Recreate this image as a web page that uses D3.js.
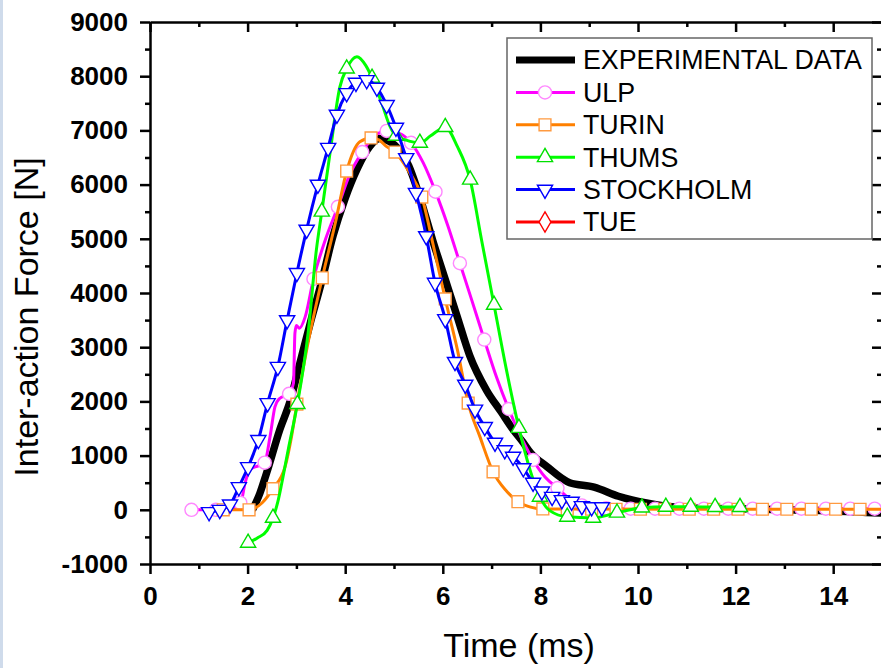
<!DOCTYPE html>
<html>
<head>
<meta charset="utf-8">
<script src="https://cdn.jsdelivr.net/npm/d3@7"></script>
<style>
body { margin: 0; background: #fff; }
svg { display: block; }
.axis path, .axis line { stroke: #000; stroke-width: 2.5; }
.axis text { font-family: "Liberation Sans", Arial, sans-serif; font-weight: bold; font-size: 26px; fill: #000; }
.title { font-family: "Liberation Sans", Arial, sans-serif; font-size: 34px; fill: #000; }
.legend text { font-family: "Liberation Sans", Arial, sans-serif; font-size: 26.8px; fill: #000; }
</style>
</head>
<body>
<svg width="881" height="668"></svg>
<script>
// ---- data ----
var xTicks = [0, 2, 4, 6, 8, 10, 12, 14];
var xMinor = [1, 3, 5, 7, 9, 11, 13, 15];
var yTicks = [-1000, 0, 1000, 2000, 3000, 4000, 5000, 6000, 7000, 8000, 9000];
var yMinor = [-500, 500, 1500, 2500, 3500, 4500, 5500, 6500, 7500, 8500];

var legendNames = ["EXPERIMENTAL DATA", "ULP", "TURIN", "THUMS", "STOCKHOLM", "TUE"];

var expLine = [[2.1,0],[2.25,300],[2.39,680],[2.66,1480],[2.87,2000],[3.07,2700],[3.3,3500],[3.5,4150],
  [3.75,5050],[4.0,5750],[4.25,6300],[4.5,6700],[4.7,6850],[4.9,6800],[5.1,6650],[5.3,6350],[5.5,5850],
  [5.8,4950],[6.05,4250],[6.3,3550],[6.55,2850],[6.9,2200],[7.2,1800],[7.44,1480],[7.64,1250],[7.8,1050],
  [8.13,800],[8.6,500],[9.1,420],[9.6,250],[10.2,120],[10.9,40],[12,20],[13,0],[14,-20],[15,-60]];

var ulpLine = [[0.85,0],[1.35,0],[1.7,20],[1.86,130],[1.95,500],[2.05,740],[2.35,870],[2.46,1350],
  [2.56,1900],[2.65,2050],[2.85,2140],[2.94,2340],[2.97,3260],[3.0,3400],[3.06,3350],[3.18,3560],
  [3.35,4260],[3.6,5000],[3.85,5590],[4.1,6200],[4.35,6600],[4.6,6900],[4.85,6990],[5.1,6950],
  [5.35,6770],[5.6,6400],[5.85,5870],[6.1,5250],[6.35,4550],[6.6,3850],[6.85,3140],[7.1,2450],
  [7.35,1860],[7.6,1350],[7.85,920],[8.1,600],[8.35,400],[8.6,200],[8.85,80],[9.35,30],[9.85,20],
  [10.35,20],[15,20]];
var ulpMarks = [[0.85,0],[1.35,0],[1.85,130],[2.35,870],[2.85,2140],[3.35,4260],[3.85,5590],
  [4.35,6600],[4.85,6990],[5.35,6770],[5.85,5870],[6.35,4550],[6.85,3140],[7.35,1860],[7.85,920],
  [8.35,400],[8.85,80],[9.35,30],[9.85,20],[10.35,20],[10.85,20],[11.35,20],[11.85,20],[12.35,20],
  [12.85,20],[13.35,20],[13.85,20],[14.35,20],[14.85,20]];

var turinLine = [[1.3,0],[1.5,0],[2.03,0],[2.3,130],[2.52,390],[2.77,800],[2.9,1350],[3.01,1950],
  [3.21,2950],[3.53,4280],[3.8,5300],[4.03,6250],[4.3,6790],[4.53,6860],[4.7,6820],[4.85,6700],
  [5.02,6600],[5.3,6250],[5.57,5770],[5.8,4900],[6.05,3890],[6.3,2950],[6.52,1970],[6.76,1350],
  [7.03,700],[7.3,350],[7.54,150],[7.8,50],[8.03,15],[15,10]];
var turinMarks = [[1.5,0],[2.03,0],[2.52,390],[3.01,1950],[3.53,4280],[4.03,6250],[4.53,6860],
  [5.02,6600],[5.57,5770],[6.05,3890],[6.52,1970],[7.03,700],[7.54,150],[8.05,15],[8.55,10],
  [9.05,10],[9.55,10],[10.05,10],[10.55,10],[11.05,10],[11.55,10],[12.05,10],[12.55,10],[13.05,10],
  [13.55,10],[14.05,10],[14.55,10]];

var thumsLine = [[2.01,-610],[2.2,-520],[2.4,-380],[2.52,-150],[2.62,150],[2.7,490],[2.83,1100],
  [3.02,1950],[3.24,3260],[3.41,4800],[3.52,5500],[3.69,6590],[3.89,7800],[4.03,8140],[4.24,8360],
  [4.42,8200],[4.55,7970],[4.75,7500],[4.92,7070],[5.04,6900],[5.25,6820],[5.53,6770],[5.75,6900],
  [6.05,7060],[6.3,6700],[6.56,6090],[6.8,4950],[7.05,3780],[7.3,2600],[7.56,1510],[7.8,700],
  [7.99,240],[8.2,-20],[8.55,-130],[9.08,-150],[9.57,-55],[10.08,40],[10.57,55],[11.08,55],
  [11.58,50],[12.09,50]];
var thumsMarks = [[2.01,-610],[2.52,-150],[3.02,1950],[3.52,5500],[4.03,8140],[4.55,7970],
  [5.04,6900],[5.53,6770],[6.05,7060],[6.56,6090],[7.05,3780],[7.56,1510],[7.99,240],[8.55,-130],
  [9.08,-150],[9.57,-55],[10.08,40],[10.57,55],[11.08,55],[11.58,50],[12.09,50]];

var stockLine = [[1.21,-40],[1.43,0],[1.64,100],[1.82,420],[2.01,790],[2.22,1290],[2.41,1970],
  [2.62,2640],[2.81,3500],[3.01,4370],[3.21,5170],[3.44,6000],[3.65,6680],[3.83,7290],[4.03,7690],
  [4.22,7880],[4.44,7930],[4.65,7790],[4.85,7470],[5.04,7050],[5.25,6490],[5.45,5850],[5.66,5050],
  [5.84,4190],[6.05,3520],[6.25,2730],[6.46,2310],[6.66,1850],[6.86,1530],[7.07,1240],[7.27,1100],
  [7.44,980],[7.65,770],[7.85,500],[8.03,340],[8.24,240],[8.44,180],[8.64,150],[8.85,70],[9.05,50],
  [9.26,50]];

// ---- setup ----
var margin = { top: 22, left: 150, bottom: 104, right: -1 };
var svg = d3.select('svg');
var svgWidth = 881, svgHeight = 668;

svg.append('rect').attr('width', svgWidth).attr('height', svgHeight).attr('fill', '#fff');
svg.append('rect').attr('width', 3).attr('height', svgHeight).attr('fill', '#cfdbeb'); // faint page edge

var xScale = d3.scaleLinear().domain([0, 15]).range([margin.left, svgWidth - margin.right]);
var yScale = d3.scaleLinear().domain([-1000, 9000]).range([svgHeight - margin.bottom, margin.top]);

var plotLeft = xScale.range()[0], plotRight = xScale.range()[1];
var plotTop = yScale.range()[1], plotBottom = yScale.range()[0];

var plainNum = function(d) { return String(d); }; // no thousands separator, hyphen minus

// ---- axes ----
function addAxis(axis, tx, ty, keepText) {
  var g = svg.append('g')
      .attr('class', 'axis')
      .attr('transform', 'translate(' + [tx, ty] + ')')
      .call(axis);
  if (!keepText) g.selectAll('.tick text').remove();
  return g;
}

// bottom
addAxis(d3.axisBottom(xScale).tickValues(xTicks).tickFormat(plainNum).tickSize(10).tickSizeOuter(0).tickPadding(13), 0, plotBottom, true);
addAxis(d3.axisBottom(xScale).tickValues(xMinor).tickSize(5).tickSizeOuter(0), 0, plotBottom, false)
  .select('.domain').remove();
// top (inward ticks)
addAxis(d3.axisTop(xScale).tickValues(xTicks).tickSizeInner(-10).tickSizeOuter(0), 0, plotTop, false);
addAxis(d3.axisTop(xScale).tickValues(xMinor).tickSizeInner(-5).tickSizeOuter(0), 0, plotTop, false)
  .select('.domain').remove();
// left
addAxis(d3.axisLeft(yScale).tickValues(yTicks).tickFormat(plainNum).tickSize(10).tickSizeOuter(0).tickPadding(12), plotLeft, 0, true);
addAxis(d3.axisLeft(yScale).tickValues(yMinor).tickSize(5).tickSizeOuter(0), plotLeft, 0, false)
  .select('.domain').remove();
// right (inward ticks)
addAxis(d3.axisRight(yScale).tickValues(yTicks).tickSizeInner(-10).tickSizeOuter(0), plotRight, 0, false);
addAxis(d3.axisRight(yScale).tickValues(yMinor).tickSizeInner(-5).tickSizeOuter(0), plotRight, 0, false)
  .select('.domain').remove();

// titles
svg.append('text').attr('class', 'title')
  .attr('x', 519).attr('y', 657)
  .attr('text-anchor', 'middle')
  .text('Time (ms)');
svg.append('text').attr('class', 'title')
  .attr('transform', 'translate(38,317) rotate(-90)')
  .attr('text-anchor', 'middle')
  .text('Inter-action Force [N]');

// ---- series ----
var line = d3.line()
  .x(function(d) { return xScale(d[0]); })
  .y(function(d) { return yScale(d[1]); })
  .curve(d3.curveMonotoneX);

var plot = svg.append('g');

function drawLine(data, color, width) {
  plot.append('path')
    .datum(data)
    .attr('d', line)
    .attr('fill', 'none')
    .attr('stroke', color)
    .attr('stroke-width', width)
    .attr('stroke-linejoin', 'round');
}

function drawMarks(data, type, size, stroke, rot) {
  var sym = d3.symbol().type(type).size(size);
  plot.selectAll(null)
    .data(data)
    .enter().append('path')
    .attr('d', sym)
    .attr('transform', function(d) {
      return 'translate(' + [xScale(d[0]), yScale(d[1])] + ') rotate(' + (rot || 0) + ')';
    })
    .attr('fill', '#fff')
    .attr('stroke', stroke)
    .attr('stroke-width', 1.4);
}

drawLine(expLine, '#000', 7.5);

drawLine(ulpLine, '#ff00ff', 3);
drawMarks(ulpMarks, d3.symbolCircle, 135, '#ff88ff');

drawLine(turinLine, '#ff8000', 3);
drawMarks(turinMarks, d3.symbolSquare, 140, '#ff9a40');

drawLine(thumsLine, '#00ff00', 3);
drawMarks(thumsMarks, d3.symbolTriangle, 100, '#00e000');

drawLine(stockLine, '#0000ff', 3);
drawMarks(stockLine, d3.symbolTriangle, 100, '#0000ff', 180);

// ---- legend ----
var legendColors = ['#000', '#ff00ff', '#ff8000', '#00ff00', '#0000ff', '#ff0000'];
var legendStroke = ['#000', '#ff88ff', '#ff9a40', '#00e000', '#0000ff', '#ff0000'];
var legendSymbols = [null, d3.symbolCircle, d3.symbolSquare, d3.symbolTriangle, d3.symbolTriangle, d3.symbolDiamond];
var legendSizes = [0, 135, 140, 100, 100, 120];

var legend = svg.append('g').attr('class', 'legend');
legend.append('rect')
  .attr('x', 507).attr('y', 38).attr('width', 365).attr('height', 201)
  .attr('fill', '#fff').attr('stroke', '#666').attr('stroke-width', 1.5);

var rows = legend.selectAll('.row')
  .data(legendNames)
  .enter().append('g')
  .attr('class', 'row')
  .attr('transform', function(d, i) { return 'translate(0,' + (60 + i * 32.4) + ')'; });

rows.append('line')
  .attr('x1', 516).attr('x2', 575)
  .attr('stroke', function(d, i) { return legendColors[i]; })
  .attr('stroke-width', function(d, i) { return i === 0 ? 7 : 3; });

rows.filter(function(d, i) { return i > 0; })
  .append('path')
  .attr('d', function(d) {
    var i = legendNames.indexOf(d);
    return d3.symbol().type(legendSymbols[i]).size(legendSizes[i])();
  })
  .attr('transform', function(d) {
    var i = legendNames.indexOf(d);
    return 'translate(545,0) rotate(' + (i === 4 ? 180 : 0) + ')';
  })
  .attr('fill', '#fff')
  .attr('stroke', function(d) { return legendStroke[legendNames.indexOf(d)]; })
  .attr('stroke-width', 1.4);

rows.append('text')
  .attr('x', 583).attr('y', 9.3)
  .text(function(d) { return d; });
</script>
</body>
</html>
